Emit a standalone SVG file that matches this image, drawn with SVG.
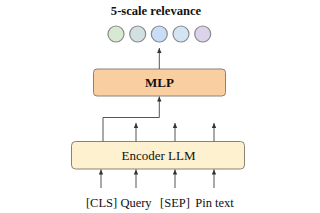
<svg xmlns="http://www.w3.org/2000/svg" width="320" height="213" viewBox="0 0 320 213">
<defs>
<marker id="ah" markerWidth="6" markerHeight="6" refX="5" refY="3" orient="auto" markerUnits="userSpaceOnUse">
<path d="M0,0.8 L5,3 L0,5.2 Z" fill="#333"/>
</marker>
<style>
.t{font-family:'Liberation Serif','Times New Roman',serif;fill:#111}
.c{stroke:#8a8a8a;stroke-width:1.2}
.box{stroke:#8a8278;stroke-width:1}
.ln{fill:none;stroke:#555;stroke-width:1;marker-end:url(#ah)}
</style>
</defs>
<rect width="320" height="213" fill="#fff"/>
<g id="title"><text class="t" x="156" y="15" font-size="12.6" font-weight="bold" text-anchor="middle">5-scale relevance</text></g>
<g id="outputs">
<circle class="c" cx="116" cy="34" r="8" fill="#d8e9d2"/>
<circle class="c" cx="137.7" cy="34" r="8" fill="#d3e0e2"/>
<circle class="c" cx="159.3" cy="34" r="8" fill="#c9dcf8"/>
<circle class="c" cx="181" cy="34" r="8" fill="#d3e4f5"/>
<circle class="c" cx="202.7" cy="34" r="8" fill="#dcd3ea"/>
</g>
<g id="mlp">
<rect class="box" x="93.5" y="69" width="132" height="27" rx="3.5" fill="#f9cfa2"/>
<text class="t" x="159.5" y="87" font-size="13" font-weight="bold" text-anchor="middle">MLP</text>
</g>
<g id="encoder">
<rect class="box" x="71.5" y="141.5" width="173" height="27.5" rx="4" fill="#fdf1cf"/>
<text class="t" x="158.5" y="160" font-size="13" text-anchor="middle">Encoder LLM</text>
</g>
<g id="inputs">
<text class="t" x="101.5" y="207" font-size="12.5" text-anchor="middle">[CLS]</text>
<text class="t" x="136" y="207" font-size="12.5" text-anchor="middle">Query</text>
<text class="t" x="175" y="207" font-size="12.5" text-anchor="middle">[SEP]</text>
<text class="t" x="214.5" y="207" font-size="12.5" text-anchor="middle">Pin text</text>
</g>
<g id="connectors">
<path class="ln" d="M159.3,69 V48"/>
<path class="ln" d="M103,141.5 V117.5 H159.3 V96.5"/>
<path class="ln" d="M136,141.5 V123"/>
<path class="ln" d="M175,141.5 V123"/>
<path class="ln" d="M214,141.5 V123"/>
<path class="ln" d="M101,188 V169.5"/>
<path class="ln" d="M136,188 V169.5"/>
<path class="ln" d="M175,188 V169.5"/>
<path class="ln" d="M214,188 V169.5"/>
</g>
</svg>
